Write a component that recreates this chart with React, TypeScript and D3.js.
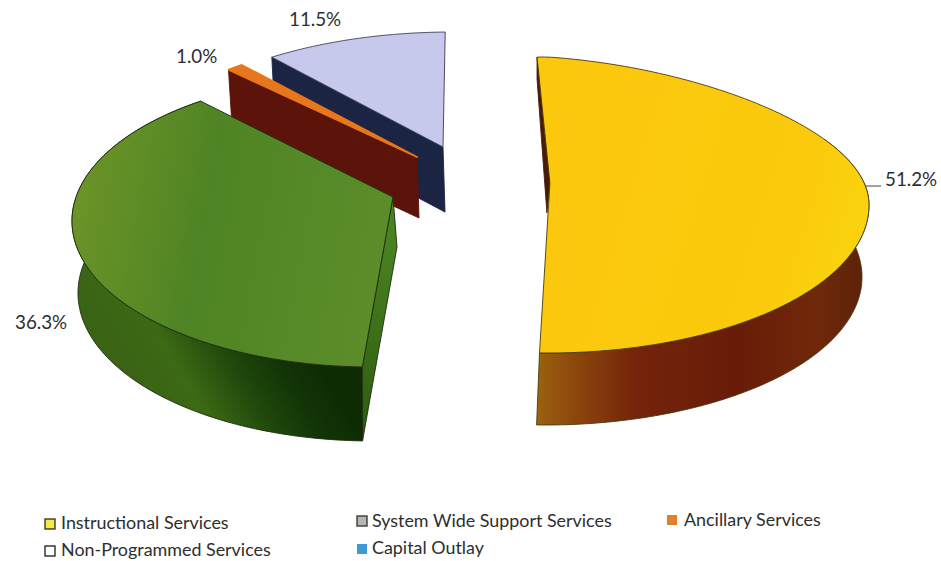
import React from "react";
import * as d3 from "d3";

const WIDTH = 941;
const HEIGHT = 561;

// Budget shares, clockwise from the top of the pie
const sliceNames = ["Instructional Services", "System Wide Support Services", "Ancillary Services", "Non-Programmed Services"];
const sliceShares = [51.2, 36.3, 1.0, 11.5];
const shareLabels = ["51.2%", "36.3%", "1.0%", "11.5%"];

// Legend reading order
const legendNames = ["Instructional Services", "System Wide Support Services", "Ancillary Services", "Non-Programmed Services", "Capital Outlay"];

const rad = Math.PI / 180;

type Ellipse = { cx: number; cy: number; rx: number; ry: number; sag?: number };
type Geometry = {
  top: Ellipse;
  bottom: Ellipse;
  hub: [number, number]; // hub of the wedge inside the unit disc, off-centre because of the perspective
  turn: number;
  hubDrop: [number, number];
  cornerDrop?: [number, number];
  wallFromDeg: number | null; // where the outer wall starts being visible; null when it stays hidden
  topFill: string;
  wallFill: string;
  cutFill: string;
  edge: string;
  edgeWidth: number;
};

// Each wedge is pulled out of the pie and has its own perspective ellipse
const geometry: Geometry[] = [
  {
    top: { cx: 548, cy: 205, rx: 321, ry: 148, sag: 22 },
    bottom: { cx: 545, cy: 277, rx: 317, ry: 148 },
    hub: [0.006, -0.149], turn: 0, hubDrop: [-3, 30], cornerDrop: [0, 22], wallFromDeg: 70,
    topFill: "url(#yellowTop)", wallFill: "url(#yellowWall)", cutFill: "#4a1a08", edge: "#4a3a10", edgeWidth: 0.9,
  },
  {
    top: { cx: 372, cy: 221, rx: 300, ry: 146 },
    bottom: { cx: 372, cy: 293, rx: 294, ry: 148 },
    hub: [0.07, -0.164], turn: 3.4, hubDrop: [4, 50], wallFromDeg: 0,
    topFill: "url(#greenTop)", wallFill: "url(#greenWall)", cutFill: "url(#greenCut)", edge: "#1c2c10", edgeWidth: 0.9,
  },
  {
    top: { cx: 435, cy: 181.5, rx: 321, ry: 146 },
    bottom: { cx: 435, cy: 243, rx: 315, ry: 146 },
    hub: [-0.056, -0.168], turn: 3.2, hubDrop: [2, 61], wallFromDeg: null,
    topFill: "#e8761c", wallFill: "#5c140a", cutFill: "#5c140a", edge: "#e8761c", edgeWidth: 1.8,
  },
  {
    top: { cx: 452, cy: 178, rx: 321, ry: 146 },
    bottom: { cx: 452, cy: 243, rx: 315, ry: 146 },
    hub: [-0.028, -0.212], turn: 3.2, hubDrop: [2, 65], wallFromDeg: null,
    topFill: "#c6c8ec", wallFill: "#1c2444", cutFill: "#1c2444", edge: "#3a3a50", edgeWidth: 0.9,
  },
];

// Painted back to front so the nearer wedges overlap the farther ones
const paintOrder = [3, 2, 1, 0];

const labelAnchors: [number, number][] = [[885, 186], [15, 329], [176, 63], [289, 26]];

const swatches = [
  { x: 45, y: 519, fill: "#f6e84a", stroke: "#3a3a20", tx: 61, ty: 529 },
  { x: 357, y: 516, fill: "#b4b8b0", stroke: "#3a3a3a", tx: 372, ty: 527 },
  { x: 667, y: 515, fill: "#e07f2c", stroke: "none", tx: 684, ty: 526 },
  { x: 45, y: 546, fill: "#ffffff", stroke: "#2a2a2a", tx: 61, ty: 556 },
  { x: 357, y: 544, fill: "#3f9ad6", stroke: "none", tx: 372, ty: 554 },
];

// Casts a ray from the wedge hub at a pie angle and lands on the unit circle
function rim(hub: [number, number], angle: number): [number, number] {
  const dx = Math.sin(angle);
  const dy = -Math.cos(angle);
  const b = hub[0] * dx + hub[1] * dy;
  const c = hub[0] * hub[0] + hub[1] * hub[1] - 1;
  const t = -b + Math.sqrt(b * b - c);
  return [hub[0] + t * dx, hub[1] + t * dy];
}

// The far right quarter of a near wedge flattens slightly under the perspective
const place = (e: Ellipse, p: [number, number]): [number, number] => [
  e.cx + e.rx * p[0],
  e.cy + e.ry * p[1] + (e.sag ?? 0) * Math.max(0, p[0]) * Math.max(0, -p[1]),
];

const outline = d3.line();

const pieLayout = d3
  .pie<number>()
  .sort(null)
  .value((d) => d)
  .startAngle(-2.7 * rad)
  .endAngle(357.3 * rad);

export default function App() {
  const arcs = pieLayout(sliceShares);
  const wedges = arcs.map((arc, i) => {
    const g = geometry[i];
    const a0 = arc.startAngle + g.turn * rad;
    const a1 = arc.endAngle + g.turn * rad;
    const sweep = (from: number) =>
      d3.range(0, 121).map((k) => rim(g.hub, from + ((a1 - from) * k) / 120));
    const topArc = sweep(a0).map((p) => place(g.top, p));
    const hubTop = place(g.top, g.hub);
    const hubBottom: [number, number] = [hubTop[0] + g.hubDrop[0], hubTop[1] + g.hubDrop[1]];
    const cornerTop = topArc[0];
    const cornerBottom: [number, number] = g.cornerDrop
      ? [cornerTop[0] + g.cornerDrop[0], cornerTop[1] + g.cornerDrop[1]]
      : place(g.bottom, rim(g.hub, a0));
    let wall: string | null = null;
    if (g.wallFromDeg !== null) {
      const wallRim = sweep(a0 + g.wallFromDeg * rad);
      wall =
        outline([
          ...wallRim.map((p) => place(g.top, p)),
          ...wallRim.map((p) => place(g.bottom, p)).reverse(),
        ])! + "Z";
    }
    return {
      g,
      face: outline([hubTop, ...topArc])! + "Z",
      wall,
      cut: outline([cornerTop, hubTop, hubBottom, cornerBottom])! + "Z",
    };
  });

  const font = "Lato, 'Open Sans', sans-serif";

  return (
    <svg
      width={WIDTH}
      height={HEIGHT}
      viewBox={`0 0 ${WIDTH} ${HEIGHT}`}
      style={{ position: "absolute", left: 0, top: 0, background: "#fff" }}
    >
      <defs>
        <linearGradient id="yellowTop" gradientUnits="userSpaceOnUse" x1="540" y1="160" x2="870" y2="260">
          <stop offset="0" stopColor="#fbc80e" />
          <stop offset="0.75" stopColor="#fbca0c" />
          <stop offset="1" stopColor="#f9d60e" />
        </linearGradient>
        <linearGradient id="yellowWall" gradientUnits="userSpaceOnUse" x1="536" y1="0" x2="866" y2="0">
          <stop offset="0" stopColor="#9a6410" />
          <stop offset="0.1" stopColor="#8f4a0c" />
          <stop offset="0.3" stopColor="#74240a" />
          <stop offset="0.6" stopColor="#681c08" />
          <stop offset="0.85" stopColor="#70280a" />
          <stop offset="1" stopColor="#5c2208" />
        </linearGradient>
        <linearGradient id="greenTop" gradientUnits="userSpaceOnUse" x1="72" y1="200" x2="396" y2="260">
          <stop offset="0" stopColor="#6c9428" />
          <stop offset="0.4" stopColor="#4f8424" />
          <stop offset="1" stopColor="#5c8e2a" />
        </linearGradient>
        <linearGradient id="greenWall" gradientUnits="userSpaceOnUse" x1="60" y1="250" x2="200" y2="166">
          <stop offset="0" stopColor="#3a6414" />
          <stop offset="0.25" stopColor="#3c6a14" />
          <stop offset="0.55" stopColor="#20480c" />
          <stop offset="0.8" stopColor="#123406" />
          <stop offset="1" stopColor="#0e2c04" />
        </linearGradient>
        <linearGradient id="greenCut" gradientUnits="userSpaceOnUse" x1="358" y1="440" x2="396" y2="240">
          <stop offset="0" stopColor="#2c5a10" />
          <stop offset="1" stopColor="#4a8220" />
        </linearGradient>
      </defs>

      {paintOrder.map((i) => {
        const w = wedges[i];
        return (
          <g key={sliceNames[i]}>
            {w.wall && <path d={w.wall} fill={w.g.wallFill} stroke={w.g.edge} strokeWidth={0.9} strokeLinejoin="round" />}
            <path d={w.cut} fill={w.g.cutFill} stroke={w.g.cutFill.startsWith("url") ? w.g.edge : w.g.cutFill} strokeWidth={0.9} strokeLinejoin="round" />
            <path d={w.face} fill={w.g.topFill} stroke={w.g.edge} strokeWidth={w.g.edgeWidth} strokeLinejoin="round" />
          </g>
        );
      })}

      <line x1={865} y1={186} x2={881} y2={186} stroke="#444" strokeWidth={1} />

      {shareLabels.map((label, i) => (
        <text key={label} x={labelAnchors[i][0]} y={labelAnchors[i][1]} fontFamily={font} fontSize={18.8} fill="#2e2e2e">
          {label}
        </text>
      ))}

      {legendNames.map((name, i) => {
        const s = swatches[i];
        return (
          <g key={name}>
            <rect x={s.x} y={s.y} width={10} height={10} fill={s.fill} stroke={s.stroke} strokeWidth={1.4} />
            <text x={s.tx} y={s.ty} fontFamily={font} fontSize={17.9} fill="#2e2e2e">
              {name}
            </text>
          </g>
        );
      })}
    </svg>
  );
}
